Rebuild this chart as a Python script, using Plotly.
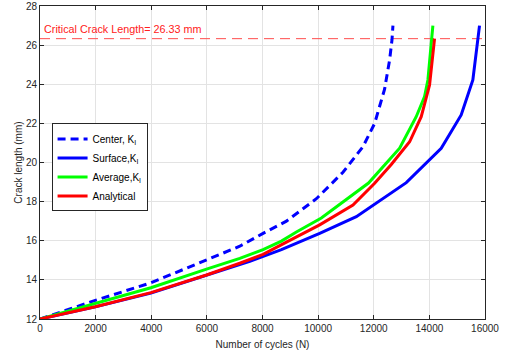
import plotly.graph_objects as go

# Data
center_N = [0, 1987, 3987, 5987, 7183, 8021, 8860, 9938, 10894, 11612, 12032, 12390, 12570, 12655, 12690]
center_a = [12.0, 12.95, 13.85, 15.0, 15.72, 16.38, 17.0, 18.15, 19.50, 20.81, 22.0, 23.75, 25.24, 26.26, 27.0]

surface_N = [0, 1987, 3987, 5987, 7542, 8680, 10056, 11373, 13170, 14426, 15144, 15563, 15803]
surface_a = [12.0, 12.62, 13.32, 14.25, 14.95, 15.55, 16.38, 17.23, 18.97, 20.73, 22.43, 24.22, 27.0]

average_N = [0, 1987, 3987, 5987, 7183, 8021, 8680, 9219, 10116, 11812, 12930, 13527, 13827, 13947, 14126]
average_a = [12.0, 12.80, 13.60, 14.55, 15.10, 15.55, 15.98, 16.45, 17.16, 18.95, 20.73, 22.34, 23.37, 24.22, 27.0]

analytical_N = [0, 1987, 3987, 5987, 7183, 8021, 8860, 10056, 11253, 12032, 12630, 13290, 13707, 14007, 14186]
analytical_a = [12.0, 12.63, 13.35, 14.25, 14.85, 15.30, 15.93, 16.81, 17.83, 18.94, 19.90, 21.06, 22.34, 23.96, 26.33]

critical_length = 26.33
x_range = [0, 16000]
y_range = [12, 28]
x_ticks = [0, 2000, 4000, 6000, 8000, 10000, 12000, 14000, 16000]
y_ticks = [12, 14, 16, 18, 20, 22, 24, 26, 28]

FONT = "Liberation Sans, Arial"
TXT = "#262626"

fig = go.Figure()

fig.add_trace(go.Scatter(x=[0, 15900], y=[critical_length, critical_length], mode="lines",
                         line=dict(color="#ff4d4d", width=1, dash="10px,6px"),
                         showlegend=False, hoverinfo="skip"))

fig.add_trace(go.Scatter(x=center_N, y=center_a, mode="lines", name="Center, K<sub>I</sub>",
                         line=dict(color="#0000ff", width=3, dash="8px,5px")))
fig.add_trace(go.Scatter(x=surface_N, y=surface_a, mode="lines", name="Surface,K<sub>I</sub>",
                         line=dict(color="#0000ff", width=3)))
fig.add_trace(go.Scatter(x=average_N, y=average_a, mode="lines", name="Average,K<sub>I</sub>",
                         line=dict(color="#00ff00", width=3)))
fig.add_trace(go.Scatter(x=analytical_N, y=analytical_a, mode="lines", name="Analytical",
                         line=dict(color="#ff0000", width=3)))

fig.add_annotation(x=0, y=critical_length, xref="x", yref="y", text="Critical Crack Length= 26.33 mm",
                   showarrow=False, xanchor="left", yanchor="bottom", xshift=2, yshift=2,
                   font=dict(color="#ff2020", size=10.8, family=FONT))

axis_common = dict(showline=True, linecolor=TXT, linewidth=1, mirror="ticks",
                   ticks="inside", ticklen=4, tickcolor=TXT, automargin=False,
                   showgrid=True, gridcolor="#e3e3e3", gridwidth=1, zeroline=False,
                   tickfont=dict(size=10, color=TXT, family=FONT))

fig.update_xaxes(range=x_range, tickvals=x_ticks, ticktext=[str(v) for v in x_ticks],
                 title=dict(text="Number of cycles (N)", font=dict(size=10, color=TXT, family=FONT), standoff=7),
                 **axis_common)
fig.update_yaxes(range=y_range, tickvals=y_ticks, ticktext=[str(v) for v in y_ticks],
                 title=dict(text="Crack length (mm)", font=dict(size=10, color=TXT, family=FONT), standoff=1),
                 **axis_common)

fig.update_layout(
    width=505, height=355,
    margin=dict(l=40, r=20, t=6, b=36),
    paper_bgcolor="white", plot_bgcolor="white",
    font=dict(family=FONT, size=10, color=TXT),
    legend=dict(x=0.026, y=0.625, xanchor="left", yanchor="top",
                bgcolor="white", bordercolor=TXT, borderwidth=1,
                font=dict(size=10, color="#000000", family=FONT), tracegroupgap=0),
)

fig.write_html("out.html", config={"displayModeBar": False},
               post_script="document.body.style.margin='0';")
